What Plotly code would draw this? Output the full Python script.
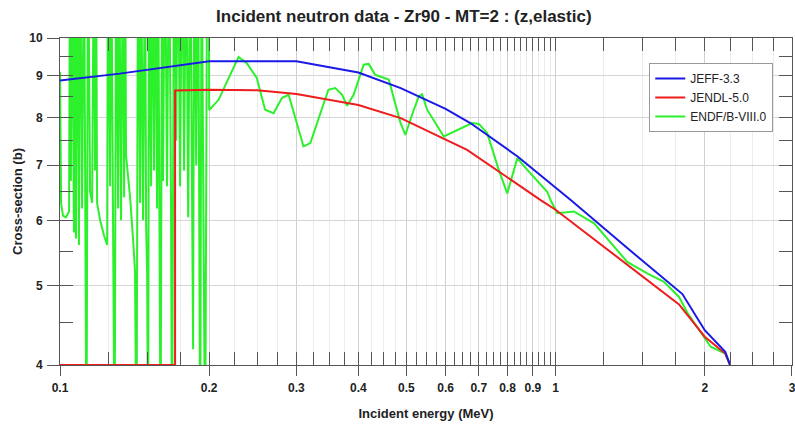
import plotly.graph_objects as go

# ---------------- data ----------------
jeff_e = [0.1, 0.132, 0.2, 0.3, 0.4, 0.487, 0.6, 0.673, 0.837, 1.073, 1.386, 1.803, 2.0, 2.2, 2.25]
jeff_xs = [8.88, 9.05, 9.37, 9.37, 9.08, 8.69, 8.2, 7.88, 7.18, 6.35, 5.57, 4.88, 4.41, 4.15, 4.0]

jendl_e = [0.1, 0.1707, 0.1707, 0.2, 0.25, 0.3, 0.4, 0.487, 0.663, 0.811, 0.933, 1.0, 1.775, 2.0, 2.2, 2.25]
jendl_xs = [4.0, 4.0, 8.63, 8.65, 8.64, 8.55, 8.29, 7.99, 7.31, 6.72, 6.35, 6.18, 4.74, 4.33, 4.13, 4.0]

# resolved-resonance part (values beyond the plotted range are clipped)
endf_res_e = [0.1000, 0.1005, 0.1014, 0.1028, 0.1043, 0.1048, 0.1052, 0.1057, 0.1067, 0.1072,
              0.1077, 0.1082, 0.1092, 0.1098, 0.1108, 0.1118, 0.1123, 0.1131, 0.1139, 0.1150,
              0.1161, 0.1171, 0.1177, 0.1182, 0.1188, 0.1205, 0.1227, 0.1245, 0.1250, 0.1262,
              0.1268, 0.1280, 0.1289, 0.1298, 0.1310, 0.1316, 0.1328, 0.1340, 0.1347, 0.1353,
              0.1359, 0.1385, 0.1404, 0.1417, 0.1427, 0.1437, 0.1451, 0.1457, 0.1471, 0.1485,
              0.1492, 0.1499, 0.1506, 0.1513, 0.1527, 0.1534, 0.1548, 0.1555, 0.1570, 0.1577,
              0.1588, 0.1596, 0.1607, 0.1614, 0.1629, 0.1644, 0.1660, 0.1675, 0.1683, 0.1699,
              0.1715, 0.1731, 0.1747, 0.1764, 0.1780, 0.1797, 0.1814, 0.1831, 0.1848, 0.1856,
              0.1865, 0.1883, 0.1900, 0.1918, 0.1931, 0.1945, 0.1963, 0.1982, 0.1996]
endf_res_xs = [9.1, 6.3, 6.08, 6.05, 6.15, 14, 6.7, 14, 5.8, 14,
               5.7, 14, 5.6, 14, 6.2, 14, 7.5, 3, 14, 6.5,
               6.3, 14, 6.9, 14, 6.3, 6.0, 5.75, 5.6, 14, 6.6,
               14, 6.0, 3, 14, 6.2, 14, 6.0, 14, 6.4, 14,
               7.2, 6.4, 5.7, 5.2, 3, 14, 6.3, 14, 6.0, 14,
               5.9, 5.2, 3, 14, 6.6, 14, 6.9, 14, 6.2, 14,
               5.7, 3, 14, 6.7, 14, 6.6, 14, 6.3, 3, 14,
               7.5, 14, 6.6, 14, 6.9, 14, 6.05, 14, 6.5, 4.18,
               14, 7.0, 14, 3, 14, 6.8, 3, 14, 14]
# smooth part above 0.2 MeV
endf_hi_e = [0.2, 0.2089, 0.2292, 0.2382, 0.2495, 0.2594, 0.2698, 0.2804, 0.2893, 0.310,
             0.320, 0.348, 0.3594, 0.371, 0.3795, 0.3913, 0.410, 0.4197, 0.4325, 0.4607,
             0.486, 0.4977, 0.5132, 0.5296, 0.538, 0.5506, 0.5949, 0.633, 0.679, 0.700,
             0.728, 0.768, 0.799, 0.837, 0.877, 0.962, 0.977, 1.008, 1.089, 1.196,
             1.395, 1.531, 1.655, 1.775, 1.845, 2.056, 2.2, 2.25]
endf_hi_xs = [8.17, 8.41, 9.48, 9.32, 8.94, 8.18, 8.10, 8.45, 8.53, 7.38,
              7.45, 8.65, 8.69, 8.53, 8.27, 8.53, 9.28, 9.30, 9.02, 8.90,
              7.9, 7.62, 8.06, 8.49, 8.54, 8.18, 7.59, 7.73, 7.88, 7.86,
              7.66, 6.91, 6.47, 7.14, 6.91, 6.50, 6.35, 6.12, 6.15, 5.95,
              5.34, 5.17, 5.05, 4.84, 4.63, 4.21, 4.13, 4.0]

x_major = [0.1, 0.2, 0.3, 0.4, 0.5, 0.6, 0.7, 0.8, 0.9, 1, 2, 3]
x_major_text = ["0.1", "0.2", "0.3", "0.4", "0.5", "0.6", "0.7", "0.8", "0.9", "1", "2", "3"]
y_major = [4, 5, 6, 7, 8, 9, 10]
y_major_text = ["4", "5", "6", "7", "8", "9", "10"]

title = "Incident neutron data - Zr90 - MT=2 : (z,elastic)"
x_title = "Incident energy (MeV)"
y_title = "Cross-section (b)"

# minor tick positions
x_minor = [round(0.1 + 0.025 * i, 4) for i in range(1, 36)] + [round(1 + 0.25 * i, 3) for i in range(1, 8)]
x_minor = [v for v in x_minor if all(abs(v - m) > 1e-9 for m in x_major)]
y_minor = [4.5, 5.5, 6.5, 7.5, 8.5, 9.5]

BLUE = "#1a1ae6"
RED = "#ee1c1c"
GREEN = "#2cf02c"
FRAME = "#555555"
FONT = "Liberation Sans, Arial, sans-serif"
XR = [-1, 0.47714]
YR = [0.60206, 1]

fig = go.Figure()
fig.add_trace(go.Scatter(x=endf_res_e + endf_hi_e, y=endf_res_xs + endf_hi_xs, mode="lines",
                         name="ENDF/B-VIII.0", line=dict(color=GREEN, width=2), legendrank=3))
fig.add_trace(go.Scatter(x=jendl_e, y=jendl_xs, mode="lines", name="JENDL-5.0",
                         line=dict(color=RED, width=2), legendrank=2))
fig.add_trace(go.Scatter(x=jeff_e, y=jeff_xs, mode="lines", name="JEFF-3.3",
                         line=dict(color=BLUE, width=2), legendrank=1))
# empty trace carrying the overlay axes (outer halves of major ticks + labels)
fig.add_trace(go.Scatter(x=[], y=[], xaxis="x2", yaxis="y2", showlegend=False, hoverinfo="skip"))

tickfont = dict(family=FONT, size=12, color="#222222", weight="bold")
titlefont = dict(family=FONT, size=13, color="#222222", weight="bold")

fig.update_layout(
    width=795, height=425,
    margin=dict(l=60, r=3, t=38, b=60, autoexpand=False),
    paper_bgcolor="white", plot_bgcolor="white",
    title=dict(text=title, x=0.508, xanchor="center", y=0.962, yanchor="middle",
               font=dict(family=FONT, size=17, color="#222222", weight="bold")),
    showlegend=True,
    legend=dict(x=0.805, y=0.9235, xanchor="left", yanchor="top",
                bgcolor="white", bordercolor="#999999", borderwidth=1,
                font=dict(family=FONT, size=12, color="#222222"),
                itemwidth=30, tracegroupgap=0),
    xaxis=dict(type="log", range=XR, showline=True, linecolor=FRAME, linewidth=1,
               mirror="allticks", ticks="inside", ticklen=13, tickcolor=FRAME,
               tickvals=x_major, showticklabels=False, automargin=False,
               showgrid=True, gridcolor="#cfcfcf", gridwidth=1, zeroline=False,
               minor=dict(tickmode="array", tickvals=x_minor, ticks="inside", ticklen=13,
                          tickcolor=FRAME, showgrid=True, gridcolor="#ececec")),
    yaxis=dict(type="log", range=YR, showline=True, linecolor=FRAME, linewidth=1,
               mirror="allticks", ticks="inside", ticklen=13, tickcolor=FRAME,
               tickvals=y_major, showticklabels=False, automargin=False,
               showgrid=True, gridcolor="#d6d6d6", gridwidth=1, zeroline=False,
               minor=dict(tickmode="array", tickvals=y_minor, ticks="inside", ticklen=13,
                          tickcolor=FRAME, showgrid=False)),
    xaxis2=dict(type="log", range=XR, overlaying="x", anchor="y2", side="bottom",
                showline=False, showgrid=False, zeroline=False, automargin=False,
                ticks="outside", ticklen=10, tickcolor=FRAME, ticklabeloverflow="allow",
                tickvals=x_major, ticktext=x_major_text, tickfont=tickfont, ticklabelstandoff=2,
                title=dict(text=x_title, font=titlefont, standoff=14)),
    yaxis2=dict(type="log", range=YR, overlaying="y", anchor="x2", side="left",
                showline=False, showgrid=False, zeroline=False, automargin=False,
                ticks="outside", ticklen=12, tickcolor=FRAME, ticklabeloverflow="allow",
                tickvals=y_major, ticktext=y_major_text, tickfont=tickfont, ticklabelstandoff=2,
                title=dict(text=y_title, font=titlefont, standoff=3)),
)

fig.write_html("out.html")
